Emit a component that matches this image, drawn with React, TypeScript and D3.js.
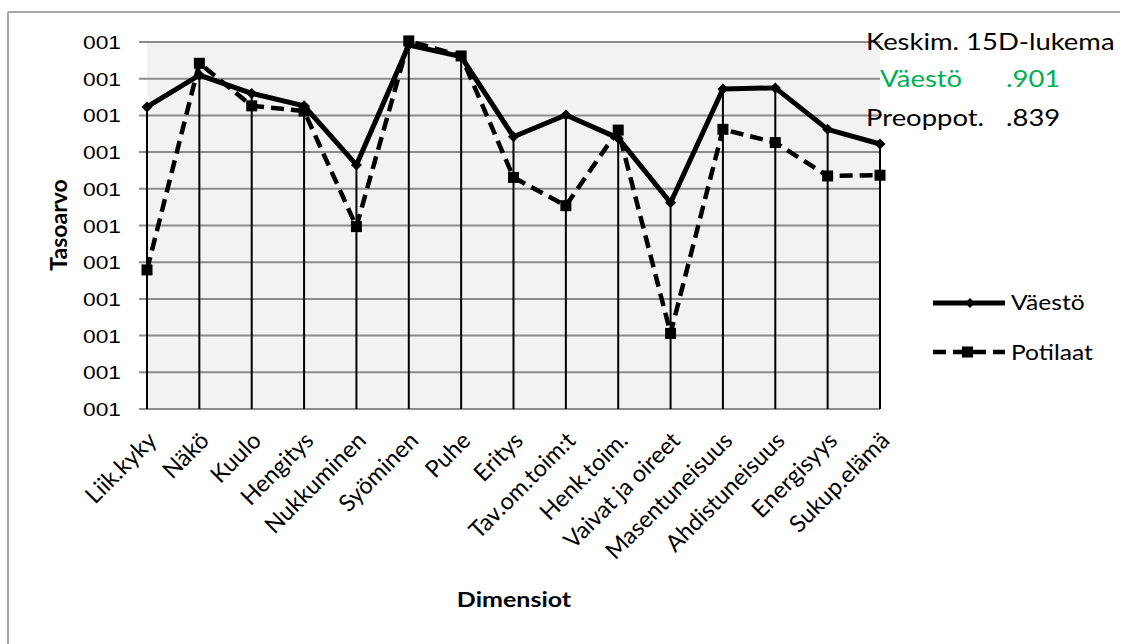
import React from "react";
import * as d3 from "d3";

const categories = [
  "Liik.kyky", "Näkö", "Kuulo", "Hengitys", "Nukkuminen", "Syöminen", "Puhe", "Eritys",
  "Tav.om.toim:t", "Henk.toim.", "Vaivat ja oireet", "Masentuneisuus", "Ahdistuneisuus",
  "Energisyys", "Sukup.elämä",
];
// values in axis units (0 = bottom gridline, 10 = top gridline)
const vaesto = [8.23, 9.1, 8.6, 8.26, 6.65, 9.92, 9.6, 7.42, 8.01, 7.38, 5.62, 8.72, 8.75, 7.62, 7.22];
const potilaat = [3.79, 9.42, 8.26, 8.12, 4.97, 10.03, 9.62, 6.31, 5.54, 7.6, 2.06, 7.62, 7.26, 6.35, 6.37];
const yTickValues = [0, 1, 2, 3, 4, 5, 6, 7, 8, 9, 10];
const yTickLabels = ["001", "001", "001", "001", "001", "001", "001", "001", "001", "001", "001"];
const seriesNames = ["Väestö", "Potilaat"];
const noteTitle = "Keskim. 15D-lukema";
const noteRows = [
  { label: "Väestö", value: ".901" },
  { label: "Preoppot.", value: ".839" },
];

const W = 1122;
const H = 644;
const CAL = "Lato, 'Open Sans', sans-serif";
const ARIAL = "'Liberation Sans', Arial, sans-serif";
const SX = 1.22;

export default function App() {
  const x = d3.scalePoint<string>().domain(categories).range([147, 880]);
  const y = d3.scaleLinear().domain([0, 10]).range([409, 42]);
  const line = d3
    .line<number>()
    .x((_, i) => x(categories[i]) as number)
    .y((d) => y(d));

  const diamond = (cx: number, cy: number, r: number) =>
    `M${cx},${cy - r}L${cx + r},${cy}L${cx},${cy + r}L${cx - r},${cy}Z`;

  return (
    <svg
      width={W}
      height={H}
      style={{ position: "absolute", left: 0, top: 0, background: "#fff" }}
    >
      {/* chart border */}
      <line x1={8} y1={12} x2={1120} y2={12} stroke="#a6a6a6" strokeWidth={2} />
      <line x1={8} y1={12} x2={8} y2={H} stroke="#a6a6a6" strokeWidth={2} />

      {/* plot area */}
      <rect x={x(categories[0])} y={y(10)} width={(x(categories[14]) as number) - (x(categories[0]) as number)} height={y(0) - y(10)} fill="#f2f2f2" />

      {/* gridlines */}
      {yTickValues.map((v) => (
        <line key={v} x1={139} x2={x(categories[14])} y1={y(v)} y2={y(v)} stroke="#8c8c8c" strokeWidth={2} />
      ))}
      {/* y tick labels */}
      {yTickValues.map((v, i) => (
        <text
          key={"t" + v}
          transform={`translate(121,${y(v) + 7}) scale(1.2,1)`}
          textAnchor="end"
          fontFamily={ARIAL}
          fontSize={19}
          fill="#000"
        >
          {yTickLabels[i]}
        </text>
      ))}

      {/* drop lines */}
      {categories.map((c, i) => (
        <line
          key={"d" + c}
          x1={x(c)}
          x2={x(c)}
          y1={y(Math.max(vaesto[i], potilaat[i]))}
          y2={y(0)}
          stroke="#000"
          strokeWidth={2}
        />
      ))}

      {/* series lines */}
      <path d={line(potilaat) as string} fill="none" stroke="#000" strokeWidth={4.5} strokeDasharray="13,7" />
      <path d={line(vaesto) as string} fill="none" stroke="#000" strokeWidth={5} strokeLinejoin="round" />
      {potilaat.map((v, i) => (
        <rect key={"s" + i} x={(x(categories[i]) as number) - 5.5} y={y(v) - 5.5} width={11} height={11} fill="#000" />
      ))}
      {vaesto.map((v, i) => (
        <path key={"m" + i} d={diamond(x(categories[i]) as number, y(v), 5.5)} fill="#000" />
      ))}

      {/* category labels */}
      {categories.map((c) => (
        <text
          key={"c" + c}
          transform={`translate(${(x(c) as number) + 11},${442}) rotate(-45)`}
          textAnchor="end"
          fontFamily={CAL}
          fontSize={23.5}
          fill="#000"
        >
          {c}
        </text>
      ))}

      {/* axis titles */}
      <text
        transform={`translate(67,225) rotate(-90)`}
        textAnchor="middle"
        fontFamily={CAL}
        fontWeight="bold"
        fontSize={23}
      >
        Tasoarvo
      </text>
      <text
        transform={`translate(514,607) scale(${SX},1)`}
        textAnchor="middle"
        fontFamily={CAL}
        fontWeight="bold"
        fontSize={20.5}
      >
        Dimensiot
      </text>

      {/* annotation */}
      <text transform={`translate(866,50) scale(${SX},1)`} fontFamily={CAL} fontSize={22.5} fill="#000">
        {noteTitle}
      </text>
      <text transform={`translate(880,87) scale(${SX},1)`} fontFamily={CAL} fontSize={22.5} fill="#00b050">
        {noteRows[0].label}
      </text>
      <text transform={`translate(1006,87) scale(${SX},1)`} fontFamily={CAL} fontSize={22.5} fill="#00b050">
        {noteRows[0].value}
      </text>
      <text transform={`translate(866,126) scale(${SX},1)`} fontFamily={CAL} fontSize={22.5} fill="#000">
        {noteRows[1].label}
      </text>
      <text transform={`translate(1006,126) scale(${SX},1)`} fontFamily={CAL} fontSize={22.5} fill="#000">
        {noteRows[1].value}
      </text>

      {/* legend */}
      <g>
        <line x1={933} x2={1005} y1={303} y2={303} stroke="#000" strokeWidth={5} />
        <path d={diamond(970, 303, 5)} fill="#000" />
        <text transform={`translate(1011,310) scale(1.2,1)`} fontFamily={CAL} fontSize={20.5}>
          {seriesNames[0]}
        </text>
        <line x1={933} x2={1005} y1={352} y2={352} stroke="#000" strokeWidth={4.5} strokeDasharray="13,7" />
        <rect x={962} y={346.5} width={11} height={11} fill="#000" />
        <text transform={`translate(1011,360) scale(1.2,1)`} fontFamily={CAL} fontSize={20.5}>
          {seriesNames[1]}
        </text>
      </g>
    </svg>
  );
}
